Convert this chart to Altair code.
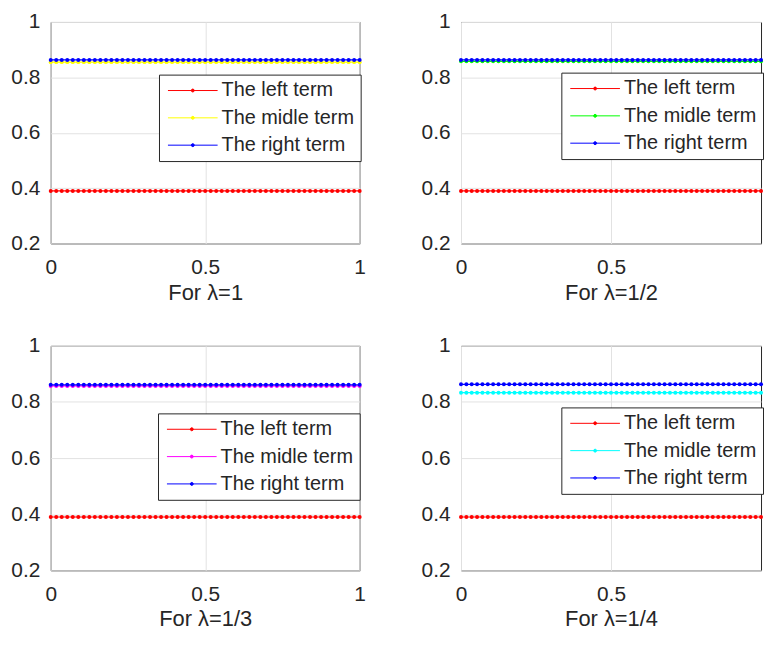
import altair as alt
import pandas as pd

# ---- data ----
x_values = [round(i / 56, 5) for i in range(57)]          # sample positions along x (0..1)
terms = ["The left term", "The midle term", "The right term"]
panel_titles = ["For λ=1", "For λ=1/2", "For λ=1/3", "For λ=1/4"]
left_levels = [0.390, 0.390, 0.390, 0.390]
middle_levels = [0.855, 0.858, 0.857, 0.833]
right_levels = [0.863, 0.863, 0.861, 0.863]
middle_colors = ["#ffff00", "#00ff00", "#ff00ff", "#00ffff"]
left_color = "#ff0000"
right_color = "#0000ff"
y_ticks = [0.2, 0.4, 0.6, 0.8, 1.0]
x_ticks_full = [0, 0.5, 1]
x_ticks_cut = [0, 0.5]          # right-hand panels are cut off at the picture edge

# legend placement per panel (px from plot-area origin)
legend_pos = [(109, 53), (101, 51), (108, 68), (101, 62)]
panel_heights = [223, 223, 226, 226]

FONT = "Liberation Sans"
TXT = "#262626"

# custom symbol: a line with a small dot in the middle
SYMBOL = "M-5.0,0H5.0M-0.3,0A0.3,0.3,0,1,0,0.3,0A0.3,0.3,0,1,0,-0.3,0Z"


def panel(i, cut):
    rows = []
    for term, level in zip(terms, [left_levels[i], middle_levels[i], right_levels[i]]):
        for x in x_values:
            rows.append({"x": x, "value": level, "term": term})
    df = pd.DataFrame(rows)
    lx, ly = legend_pos[i]
    w = 302 if cut else 311
    h = panel_heights[i]
    return alt.Chart(df).mark_line(
        strokeWidth=1.2,
        point=alt.OverlayMarkDef(filled=True, size=16, opacity=1),
    ).encode(
        x=alt.X("x:Q",
                scale=alt.Scale(domain=[0, 1], nice=False),
                axis=alt.Axis(values=x_ticks_cut if cut else x_ticks_full, format="~g",
                              title=panel_titles[i], labelFlush=False)),
        y=alt.Y("value:Q",
                scale=alt.Scale(domain=[0.2, 1], nice=False, zero=False),
                axis=alt.Axis(values=y_ticks, format="~g", title=None)),
        color=alt.Color("term:N",
                        scale=alt.Scale(domain=terms,
                                        range=[left_color, middle_colors[i], right_color]),
                        legend=alt.Legend(title=None, orient="none",
                                          legendX=lx, legendY=ly)),
    ).properties(width=w, height=h)


top = alt.hconcat(panel(0, False), panel(1, True), spacing=54).resolve_scale(color="independent")
bottom = alt.hconcat(panel(2, False), panel(3, True), spacing=54).resolve_scale(color="independent")

chart = alt.vconcat(top, bottom, spacing=30).resolve_scale(
    color="independent"
).properties(
    padding={"left": 2, "top": 0, "right": 0, "bottom": 0},
    background="white",
).configure_view(
    stroke=TXT, strokeWidth=1
).configure_axis(
    labelFont=FONT, labelFontSize=21, labelColor=TXT,
    titleFont=FONT, titleFontSize=22, titleColor=TXT, titleFontWeight="normal",
    domain=False, ticks=False,
    grid=True, gridColor="#e2e2e2", gridWidth=1,
    labelPadding=11,
).configure_axisX(
    labelPadding=13, titlePadding=5,
).configure_legend(
    fillColor="white", strokeColor=TXT, strokeWidth=1, cornerRadius=0,
    padding=6, labelFont=FONT, labelFontSize=20, labelColor=TXT,
    symbolType=SYMBOL, symbolSize=100, symbolStrokeWidth=1,
    symbolOffset=18, labelOffset=19, rowPadding=7.5,
)

chart.save("out.html", embed_options={"renderer": "svg", "actions": False})
